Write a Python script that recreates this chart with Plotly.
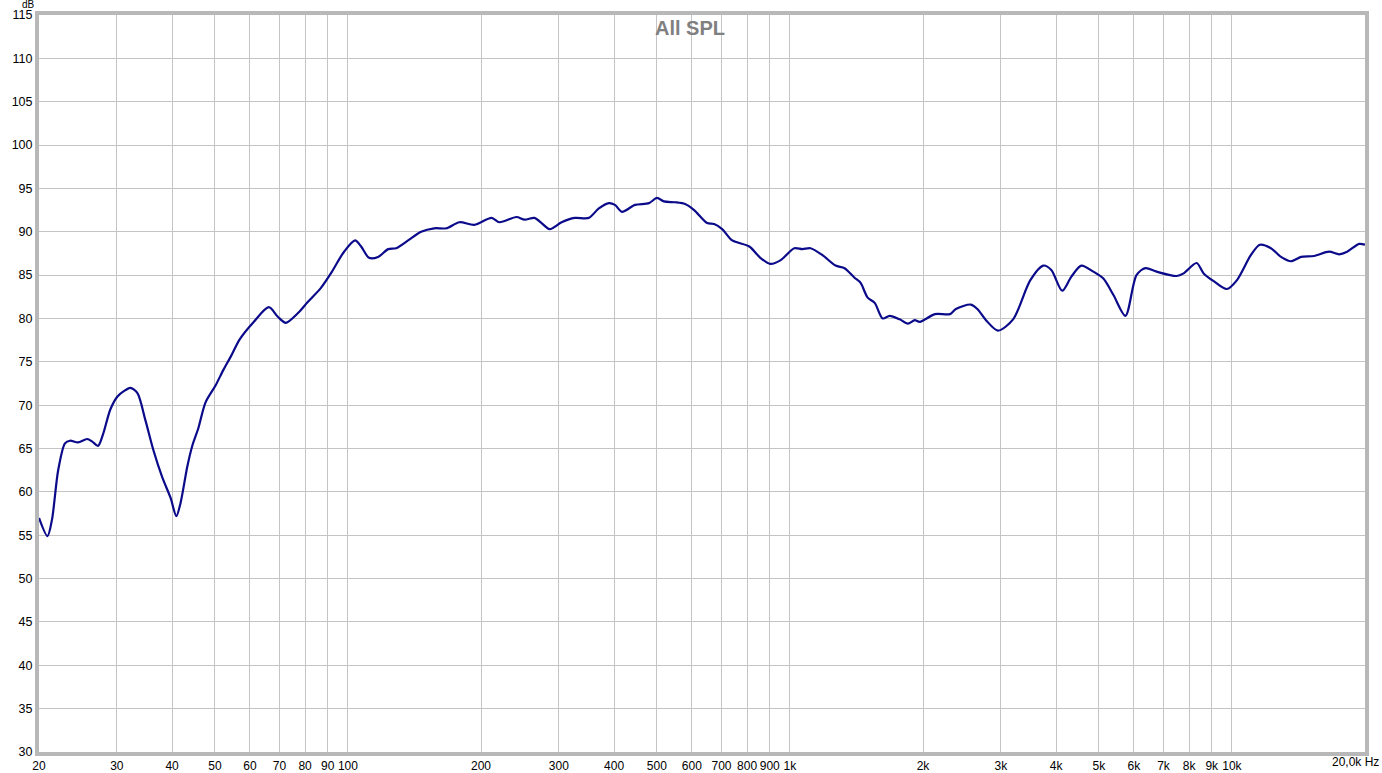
import plotly.graph_objects as go

# Frequency (Hz) and SPL (dB)
freq_hz = [20, 20.9, 21.4, 22.1, 22.9, 23.5, 24.5, 25.7, 26.4, 27.2, 27.9, 29.0, 30.1, 31.3,
           32.2, 33.4, 34.8, 36.3, 38.0, 39.7, 40.9, 41.8, 43.3, 44.5, 45.9, 47.6, 50.2, 52.3,
           54.3, 56.9, 61.2, 66.2, 69.4, 72.3, 77.0, 81.1, 86.8, 91.5, 98.0, 103.8, 107.1,
           111.6, 117, 123.3, 128.5, 136.8, 146.4, 156.8, 166.9, 178.7, 193.2, 211.3, 220.2,
           240.6, 251, 264.4, 274.2, 286, 304.4, 325.8, 350.6, 369.6, 389.2, 401.8, 416.8,
           446, 479.8, 500.2, 518.8, 549.6, 579, 607, 649.6, 673.8, 702.6, 740.4, 809.2, 857,
           903, 951.4, 1023, 1067, 1113, 1185, 1268, 1329, 1400, 1445, 1499, 1555, 1621, 1681,
           1771, 1848, 1916, 1967, 2128, 2301, 2374, 2568, 2664, 2777, 2956, 3198, 3496, 3742,
           3902, 4130, 4330, 4562, 4858, 5118, 5394, 5742, 6082, 6374, 6752, 7496, 7774, 8318,
           8630, 9094, 9734, 10256, 11034, 11566, 12252, 12910, 13602, 14332, 15336, 16588,
           17476, 18224, 19404, 20000]
spl_db = [57.0, 54.9, 56.8, 62.5, 65.6, 65.9, 65.7, 66.1, 65.8, 65.3, 66.6, 69.5, 71.0, 71.7,
          72.0, 71.4, 68.3, 64.8, 61.7, 59.3, 57.2, 58.7, 62.9, 65.4, 67.4, 70.3, 72.3, 74.1,
          75.6, 77.6, 79.6, 81.3, 80.2, 79.5, 80.6, 81.9, 83.5, 85.2, 87.7, 89.0, 88.3,
          87.0, 87.1, 88.0, 88.1, 89.0, 90.0, 90.4, 90.4, 91.1, 90.8, 91.6, 91.1,
          91.7, 91.4, 91.6, 91.0, 90.3, 91.1, 91.6, 91.6, 92.7, 93.3, 93.1, 92.3,
          93.1, 93.3, 93.9, 93.5, 93.4, 93.2, 92.5, 91.0, 90.9, 90.3, 89.0, 88.3, 87.0,
          86.3, 86.7, 88.1, 88.0, 88.1, 87.3, 86.1, 85.8, 84.7, 84.1, 82.4, 81.8, 80.0, 80.3,
          79.9, 79.4, 79.8, 79.6, 80.5, 80.5, 81.1, 81.6, 81.0, 79.8, 78.6, 79.9, 84.4, 86.1,
          85.6, 83.2, 84.8, 86.1, 85.4, 84.6, 82.7, 80.3, 85.0, 85.8, 85.4, 84.9, 85.2, 86.4,
          85.2, 84.3, 83.4, 84.4, 87.3, 88.5, 88.1, 87.1, 86.6, 87.1, 87.2, 87.7,
          87.4, 87.7, 88.6, 88.5]

x_tick_vals = [20, 30, 40, 50, 60, 70, 80, 90, 100, 200, 300, 400, 500, 600, 700, 800, 900,
               1000, 2000, 3000, 4000, 5000, 6000, 7000, 8000, 9000, 10000, 20000]
x_tick_text = ["20", "30", "40", "50", "60", "70", "80", "90", "100", "200", "300", "400",
               "500", "600", "700", "800", "900", "1k", "2k", "3k", "4k", "5k", "6k", "7k",
               "8k", "9k", "10k", ""]
y_tick_vals = list(range(30, 116, 5))

fig = go.Figure()
fig.add_trace(go.Scatter(x=freq_hz, y=spl_db, mode="lines",
                         line=dict(color="#0a0a8a", width=2.2, shape="spline", smoothing=0.8),
                         hoverinfo="x+y", showlegend=False))

yfont = dict(family="Liberation Sans, Arial, sans-serif", size=12.5, color="#000000")
xfont = dict(family="Liberation Sans, Arial, sans-serif", size=12, color="#000000")
fig.update_layout(
    width=1382, height=773,
    margin=dict(l=39, r=17, t=15, b=21),
    paper_bgcolor="white", plot_bgcolor="white",
    font=xfont,
    xaxis=dict(type="log", range=[1.30103, 4.30103], tickmode="array",
               tickvals=x_tick_vals, ticktext=x_tick_text, showgrid=True,
               gridcolor="#c4c4c4", gridwidth=1, ticks="", zeroline=False,
               showline=True, linecolor="#b8b8b8", linewidth=4, mirror=True,
               tickfont=xfont, tickangle=0, automargin=False),
    yaxis=dict(range=[30, 115], tickmode="array", tickvals=y_tick_vals,
               showgrid=True, gridcolor="#c4c4c4", gridwidth=1, ticks="",
               zeroline=False, showline=True, linecolor="#b8b8b8", linewidth=4,
               mirror=True, tickfont=yfont, automargin=False),
    annotations=[
        dict(text="All SPL", xref="paper", yref="paper", x=0.491, y=1,
             xanchor="center", yanchor="top", showarrow=False,
             font=dict(family="Liberation Sans, Arial, sans-serif", size=20,
                       color="#808080", weight="bold")),
        dict(text="dB", xref="paper", yref="paper", x=0, y=1, xanchor="right",
             yanchor="middle", xshift=-3, yshift=11, showarrow=False, borderpad=0,
             font=dict(family="Liberation Sans, Arial, sans-serif", size=10, color="#000")),
        dict(text="20,0k Hz", xref="paper", yref="paper", x=1, y=0, xanchor="right",
             yanchor="top", xshift=16, yshift=-1, showarrow=False, font=xfont),
    ],
)

fig.write_html("out.html", config={"displayModeBar": False},
               post_script="document.body.style.margin='0';document.body.style.padding='0';")
